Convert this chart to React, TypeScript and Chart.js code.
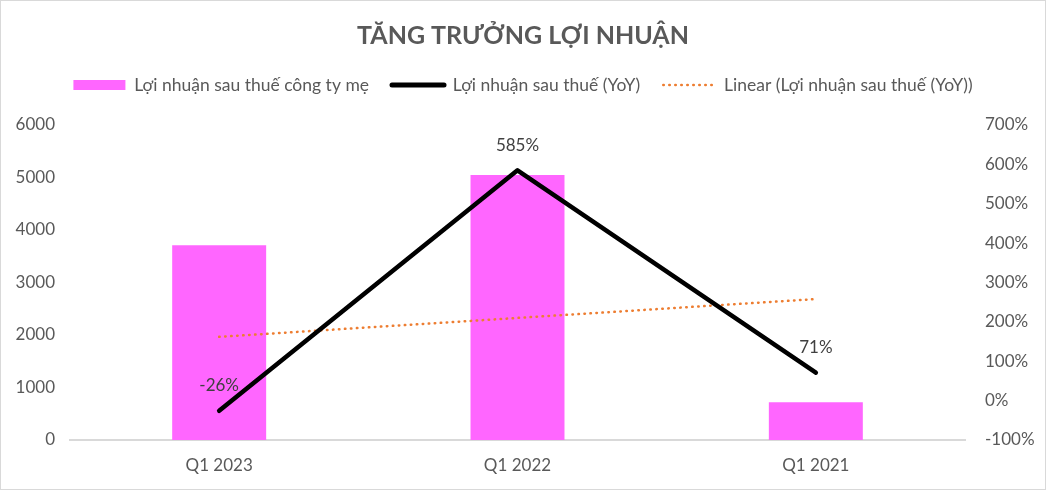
import { useEffect, useRef } from 'react';
import { Chart, registerables } from 'chart.js';

Chart.register(...registerables);

const FONT = 'Lato';
const TEXT_COLOR = '#595959';

const categories = ['Q1 2023', 'Q1 2022', 'Q1 2021'];
const profitValues = [3710, 5050, 720];
const yoyValues = [-26, 585, 71];
const trendValues = [162, 210, 258];

const legendTexts = [
  'Lợi nhuận sau thuế công ty mẹ',
  'Lợi nhuận sau thuế (YoY)',
  'Linear (Lợi nhuận sau thuế (YoY))',
];

// percent labels above the YoY line points
const yoyLabelPlugin = {
  id: 'yoyLabels',
  afterDatasetsDraw(chart: any) {
    const meta = chart.getDatasetMeta(1);
    const ctx = chart.ctx;
    ctx.save();
    ctx.font = `17px ${FONT}`;
    ctx.fillStyle = '#404040';
    ctx.textAlign = 'center';
    ctx.textBaseline = 'middle';
    meta.data.forEach((pt: any, i: number) => {
      ctx.fillText(yoyValues[i] + '%', pt.x, pt.y - 25);
    });
    ctx.restore();
  },
};

export default function App() {
  const canvasRef = useRef<HTMLCanvasElement>(null);
  const chartRef = useRef<Chart | null>(null);

  useEffect(() => {
    if (!canvasRef.current) return;
    if (chartRef.current) chartRef.current.destroy();

    chartRef.current = new Chart(canvasRef.current, {
      type: 'bar',
      data: {
        labels: categories,
        datasets: [
          {
            type: 'bar',
            label: legendTexts[0],
            data: profitValues,
            backgroundColor: '#FF66FF',
            barPercentage: 0.315,
            categoryPercentage: 1,
            yAxisID: 'y',
            order: 2,
          },
          {
            type: 'line',
            label: legendTexts[1],
            data: yoyValues,
            borderColor: '#000000',
            borderWidth: 4.5,
            borderCapStyle: 'round',
            borderJoinStyle: 'round',
            pointRadius: 0,
            tension: 0,
            yAxisID: 'y1',
            order: 0,
          },
          {
            type: 'line',
            label: legendTexts[2],
            data: trendValues,
            borderColor: '#ED7D31',
            borderWidth: 2.5,
            borderDash: [0.5, 5.5],
            borderCapStyle: 'round',
            pointRadius: 0,
            tension: 0,
            yAxisID: 'y1',
            order: 1,
          },
        ] as any,
      },
      options: {
        responsive: true,
        maintainAspectRatio: false,
        animation: false,
        layout: { padding: 0 },
        plugins: {
          title: {
            display: true,
            text: 'TĂNG TRƯỞNG LỢI NHUẬN',
            color: TEXT_COLOR,
            font: { family: FONT, size: 25, weight: 'bold', lineHeight: 1.2 },
            padding: { top: 20, bottom: 2.25 },
          },
          // empty spacer between legend and plot
          subtitle: {
            display: true,
            text: '',
            weight: 500,
            font: { size: 10, lineHeight: 1 },
            padding: { top: 11.25, bottom: 0 },
          } as any,
          legend: {
            position: 'top',
            labels: {
              usePointStyle: true,
              pointStyleWidth: 52,
              boxHeight: 10,
              padding: 23,
              color: TEXT_COLOR,
              font: { family: FONT, size: 17.5 },
              generateLabels: () => [
                {
                  text: legendTexts[0],
                  fillStyle: '#FF66FF',
                  strokeStyle: '#FF66FF',
                  lineWidth: 0,
                  pointStyle: 'rect',
                  fontColor: TEXT_COLOR,
                  hidden: false,
                  datasetIndex: 0,
                },
                {
                  text: legendTexts[1],
                  fillStyle: 'rgba(0,0,0,0)',
                  strokeStyle: '#000000',
                  lineWidth: 5,
                  lineCap: 'round',
                  pointStyle: 'line',
                  fontColor: TEXT_COLOR,
                  hidden: false,
                  datasetIndex: 1,
                },
                {
                  text: legendTexts[2],
                  fillStyle: 'rgba(0,0,0,0)',
                  strokeStyle: '#ED7D31',
                  lineWidth: 2.5,
                  lineCap: 'round',
                  lineDash: [0.5, 5.5],
                  pointStyle: 'line',
                  fontColor: TEXT_COLOR,
                  hidden: false,
                  datasetIndex: 2,
                },
              ],
            },
          },
          tooltip: { enabled: false },
        },
        scales: {
          x: {
            grid: { display: false, drawTicks: false },
            border: { color: '#D9D9D9', width: 2 },
            ticks: { color: TEXT_COLOR, font: { family: FONT, size: 17 }, padding: 15 },
            afterFit: (axis: any) => {
              axis.height = 49;
            },
          },
          y: {
            position: 'left',
            min: 0,
            max: 6000,
            grid: { display: false, drawTicks: false },
            border: { display: false },
            ticks: {
              stepSize: 1000,
              color: TEXT_COLOR,
              font: { family: FONT, size: 17 },
              padding: 15,
              callback: (v: any) => String(v),
            },
            afterFit: (axis: any) => {
              axis.width = 69;
            },
          },
          y1: {
            position: 'right',
            min: -100,
            max: 700,
            grid: { display: false, drawTicks: false },
            border: { display: false },
            ticks: {
              stepSize: 100,
              color: TEXT_COLOR,
              font: { family: FONT, size: 17 },
              padding: 20,
              callback: (v: any) => v + '%',
            },
            afterFit: (axis: any) => {
              axis.width = 80;
            },
          },
        },
      },
      plugins: [yoyLabelPlugin],
    });

    return () => {
      if (chartRef.current) {
        chartRef.current.destroy();
        chartRef.current = null;
      }
    };
  }, []);

  return (
    <div
      style={{
        position: 'fixed',
        left: 0,
        top: 0,
        width: 1046,
        height: 490,
        boxSizing: 'border-box',
        border: '1px solid #D9D9D9',
        background: '#ffffff',
      }}
    >
      <div style={{ position: 'relative', width: '100%', height: '100%' }}>
        <canvas ref={canvasRef}></canvas>
      </div>
    </div>
  );
}
